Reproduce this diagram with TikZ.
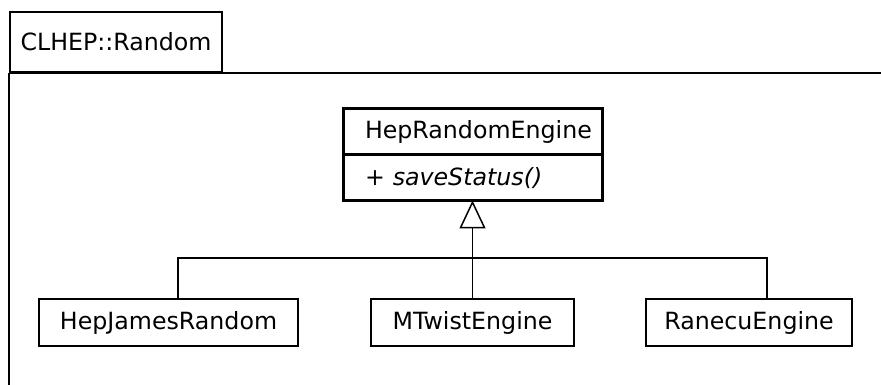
\documentclass[tikz,border=0pt]{standalone}
\usepackage{fontspec}
\setmainfont{DejaVu Sans}
\usetikzlibrary{arrows.meta,positioning}
\tikzset{
  umlfont/.style={font=\fontsize{23.7}{28}\selectfont},
  pkgtab/.style={draw, line width=2pt, umlfont, minimum width=212pt,
    minimum height=60pt, inner sep=0pt},
  frame/.style={line width=2pt},
  cls/.style={draw, line width=2pt, umlfont, minimum height=47pt, inner sep=0pt},
  absbox/.style={draw, line width=3pt, umlfont, text width=215pt, inner xsep=22pt,
    inner ysep=0pt, minimum height=46pt, align=left},
  link/.style={line width=1.5pt},
  gen/.style={line width=1.5pt, shorten >=-2pt, -{Triangle[open, length=28pt, width=26pt]}}
}

\begin{document}
\begin{tikzpicture}[x=1pt,y=1pt]
  \useasboundingbox (0,0) rectangle (881,385);
  % package
  \node[pkgtab] (pkg) at (116,343) {CLHEP::Random};
  \draw[frame] (pkg.south west) -- ++(0,-320);
  \draw[frame] (pkg.south west) -- ++(880,0);
  % base class
  \node[absbox] (eng) at (472.5,253) {HepRandomEngine};
  \node[absbox, below=-3pt of eng] (engops) {+ \textit{saveStatus()}};
  % subclasses
  \foreach \n/\x/\w/\t in {hjr/168.5/259/HepJamesRandom,mte/472.5/203/MTwistEngine,rne/749/206/RanecuEngine}{
    \node[cls, minimum width=\w pt] (\n) at (\x,62.5) {\t};
  }
  \coordinate (bus) at (472.5,127);
  \draw[gen] (mte.north) -- (engops.south);
  \draw[link] ([xshift=9.5pt]hjr.north) |- (bus) -| ([xshift=18pt]rne.north);
\end{tikzpicture}
\end{document}
